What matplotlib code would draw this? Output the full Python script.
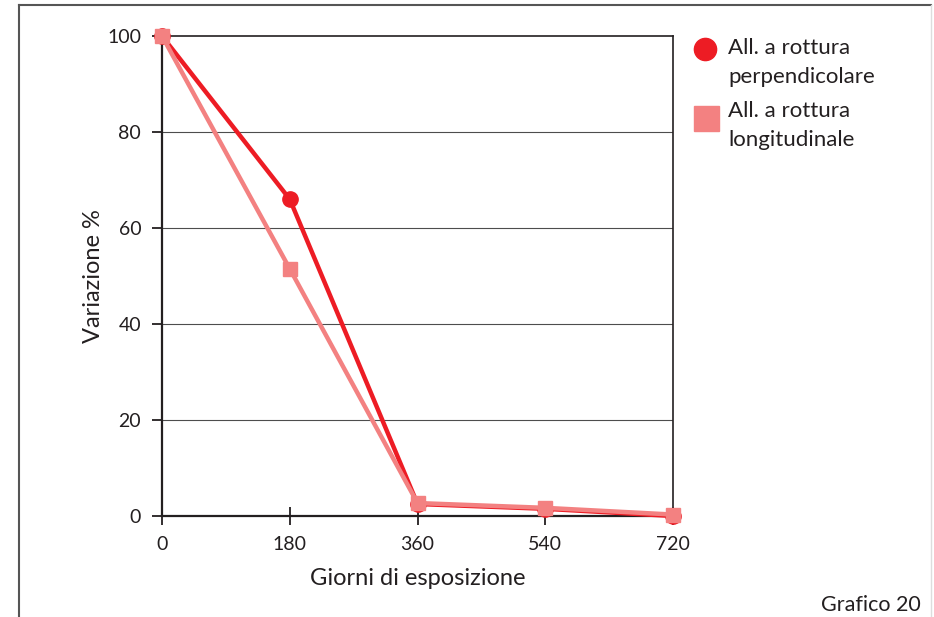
import matplotlib.pyplot as plt
from matplotlib.lines import Line2D

plt.rcParams['font.family'] = ['Lato', 'DejaVu Sans']

giorni = [0, 180, 360, 540, 720]
perpendicolare = [100, 66, 2.5, 1.5, 0.0]
longitudinale = [100, 51.5, 2.7, 1.7, 0.3]
y_ticks = [0, 20, 40, 60, 80, 100]

RED = '#ed1c24'
PINK = '#f38181'
W, H = 934, 617

fig = plt.figure(figsize=(9.34, 6.17), dpi=100)
ax = fig.add_axes([162 / W, 1 - 516 / H, (673 - 162) / W, (516 - 36) / H])

for y in y_ticks[1:-1]:
    ax.axhline(y, color='#4d4d4d', lw=0.8, zorder=1)

ax.plot(giorni, perpendicolare, color=RED, lw=3.2, marker='o', ms=11,
        clip_on=False, zorder=3)
ax.plot(giorni, longitudinale, color=PINK, lw=3.2, marker='s', ms=10,
        clip_on=False, zorder=4)

ax.set_xlim(0, 720)
ax.set_ylim(0, 100)
ax.set_xticks(giorni)
ax.set_yticks(y_ticks)
ax.tick_params(axis='x', direction='inout', length=13, width=1.3,
               labelsize=14, pad=8, colors='#231f20')
ax.tick_params(axis='y', direction='out', length=7, width=1.3,
               labelsize=14, pad=8, colors='#231f20')
for side in ['left', 'bottom']:
    ax.spines[side].set_linewidth(1.6)
    ax.spines[side].set_color('#231f20')
for side in ['top', 'right']:
    ax.spines[side].set_linewidth(1.2)
    ax.spines[side].set_color('#231f20')

ax.set_xlabel('Giorni di esposizione', fontsize=17, color='#231f20', labelpad=11)
ax.set_ylabel('Variazione %', fontsize=17, color='#231f20', labelpad=2)

# legenda a destra
def fx(px):
    return px / W

def fy(py):
    return 1 - py / H

fig.add_artist(Line2D([fx(705)], [fy(49)], marker='o', ms=16, color=RED,
                      ls='none'))
fig.add_artist(Line2D([fx(706)], [fy(118)], marker='s', ms=18, color=PINK,
                      ls='none'))
txt = dict(fontsize=16, color='#231f20', va='center', ha='left')
fig.text(fx(728), fy(48), 'All. a rottura', **txt)
fig.text(fx(728), fy(77), 'perpendicolare', **txt)
fig.text(fx(728), fy(111), 'All. a rottura', **txt)
fig.text(fx(728), fy(140), 'longitudinale', **txt)

fig.text(fx(921), fy(605), 'Grafico 20', fontsize=15.5, color='#231f20',
         ha='right', va='center')

# cornice esterna
frame = dict(color='#555555', lw=1.5)
fig.add_artist(Line2D([fx(19), fx(19)], [0, fy(5)], **frame))
fig.add_artist(Line2D([fx(19), fx(931)], [fy(5), fy(5)], **frame))
fig.add_artist(Line2D([fx(931), fx(931)], [fy(5), 0], color='#dddddd', lw=1))

plt.savefig('out.png', dpi=100)
